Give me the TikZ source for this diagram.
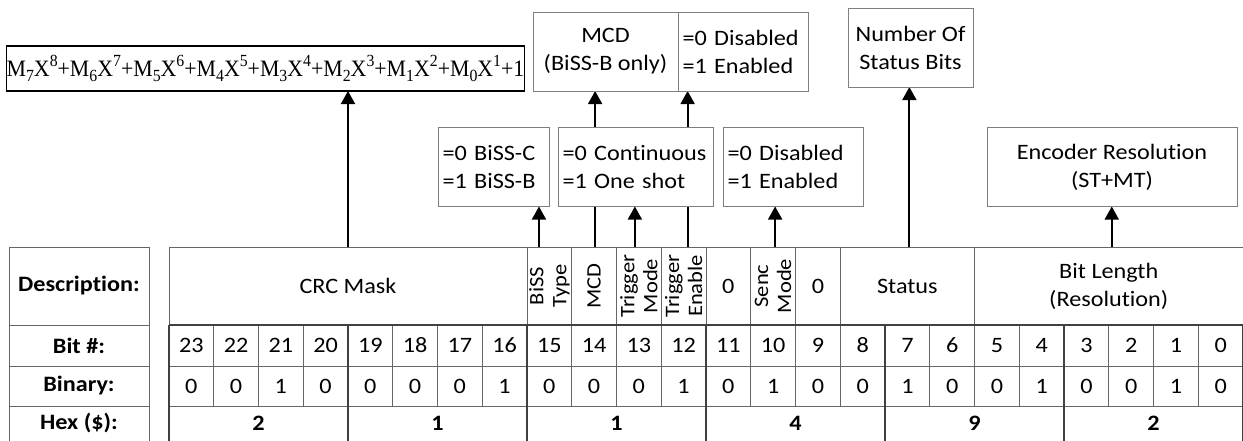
\documentclass[tikz,border=0pt]{standalone}
\usepackage{fontspec}
\setmainfont{Carlito}[FakeStretch=1.1, Ligatures=NoCommon]
\newfontfamily\formfont{Liberation Serif}[FakeStretch=0.93]
\usetikzlibrary{arrows.meta,backgrounds}
\definecolor{thinc}{HTML}{666666}
\definecolor{thickc}{HTML}{404040}
\definecolor{boxc}{HTML}{7F7F7F}
\newcommand\mterm[2]{M\raisebox{-0.22em}{\fontsize{17}{17}\selectfont #1}X\raisebox{0.45em}{\fontsize{17}{17}\selectfont #2}}
\begin{document}
\begin{tikzpicture}[x=1pt,y=-1pt,
  every node/.style={inner sep=0pt, outer sep=0pt, font=\fontsize{22}{28}\selectfont},
  cellc/.style={draw=thinc, line width=1pt, minimum width=44.75pt, minimum height=#1},
  desccell/.style={draw=thinc, line width=1pt, minimum height=78pt, minimum width=#1, align=center},
  vtext/.style={rotate=90, align=center, font=\fontsize{20.5}{23}\selectfont},
  labcell/.style={draw=thinc, line width=1pt, minimum width=140pt, minimum height=#1, font=\fontsize{22}{28}\selectfont\bfseries},
  thk/.style={draw=thickc, line width=2.4pt},
  infobox/.style={draw=boxc, line width=1pt, fill=white, minimum width=#1, minimum height=79pt, align=center},
  leftbox/.style={draw=boxc, line width=1pt, fill=white, text width=#1-9pt, inner xsep=4.5pt, minimum height=79pt, align=left},
  arr/.style={line width=1.8pt, -{Triangle[width=14pt,length=13pt]}}
]
\useasboundingbox (0,0) rectangle (1243,440);

% label column
\node[labcell=78pt] (ldesc) at (79,286) {Description:};
\node[labcell=41pt] (lbit) at (79,345.5) {Bit \#:};
\node[labcell=40pt] (lbin) at (79,386) {Binary:};
\node[labcell=38pt] (lhex) at (79,425) {};
\node[font=\fontsize{22}{28}\selectfont\bfseries] (lhext) at (79,423) {Hex (\$):};

% description row
\node[desccell=358pt] (crc) at (348,286) {CRC Mask};
\node[desccell=44.75pt] (biss) at ({169+8.5*44.75},286) {};
\node[vtext] at (biss) {BiSS\\Type};
\node[desccell=44.75pt] (mcd) at ({169+9.5*44.75},286) {};
\node[vtext] at (mcd) {MCD};
\node[desccell=44.75pt] (tmode) at ({169+10.5*44.75},286) {};
\node[vtext] at (tmode) {Trigger\\Mode};
\node[desccell=44.75pt] (tenable) at ({169+11.5*44.75},286) {};
\node[vtext] at (tenable) {Trigger\\Enable};
\node[desccell=44.75pt] (zeroa) at ({169+12.5*44.75},286) {0};
\node[desccell=44.75pt] (senc) at ({169+13.5*44.75},286) {};
\node[vtext] at (senc) {Senc\\Mode};
\node[desccell=44.75pt] (zerob) at ({169+14.5*44.75},286) {0};
\node[desccell=134.25pt] (status) at ({169+16.5*44.75},286) {Status};
\node[desccell=268.5pt] (bitlen) at ({169+21*44.75},286) {Bit Length\\(Resolution)};

% bit and binary rows
\foreach \b [count=\i from 0] in {0,0,1,0,0,0,0,1,0,0,0,1,0,1,0,0,1,0,0,1,0,0,1,0}{
  \pgfmathtruncatemacro\bn{23-\i}
  \node[cellc=41pt] (bit\i) at ({169+(\i+0.5)*44.75},345.5) {\bn};
  \node[cellc=40pt] (bin\i) at ({169+(\i+0.5)*44.75},386) {\b};
}
% hex row
\foreach \h [count=\i from 0] in {2,1,1,4,9,2}{
  \node[font=\fontsize{22}{28}\selectfont\bfseries] (hex\i) at ({169+(4*\i+2)*44.75},423) {\h};
}
% nibble borders
\draw[thk] (bit0.north west) -- (bit23.north east);
\foreach \i in {0,...,6}{
  \draw[thk] ({169+4*\i*44.75},325) -- ({169+4*\i*44.75},441);
}

% annotation boxes
\node[draw=black, line width=1.5pt, fill=white, minimum width=513pt, minimum height=45pt, font=\formfont\fontsize{23.5}{26}\selectfont] (formula) at (265.5,68.5)
  {\mterm{7}{8}+\mterm{6}{7}+\mterm{5}{6}+\mterm{4}{5}+\mterm{3}{4}+\mterm{2}{3}+\mterm{1}{2}+\mterm{0}{1}+1};
\node[infobox=145pt] (mcdbox) at (605.5,51.5) {MCD\\(BiSS-B only)};
\node[leftbox=130pt] (trigenbox) at (743,51.5) {=0 Disabled\\=1 Enabled};
\node[infobox=125pt] (numbox) at (910.5,47.5) {Number Of\\Status Bits};
\node[leftbox=111pt] (bissbox) at (493.5,167) {=0 BiSS-C\\=1 BiSS-B};
\node[leftbox=155pt] (contbox) at (635.5,167) {=0 Continuous\\=1 One shot};
\node[leftbox=140pt] (sencbox) at (793,167) {=0 Disabled\\=1 Enabled};
\node[infobox=250pt] (encbox) at (1112,167) {Encoder Resolution\\(ST+MT)};

% arrows
\begin{scope}[on background layer]
\draw[arr] (crc.north) -- (crc.north |- formula.south);
\draw[arr] ([xshift=-10.4pt]biss.north) -- ([xshift=-10.4pt]biss.north |- bissbox.south);
\draw[arr] ([xshift=1pt]mcd.north) -- ([xshift=1pt]mcd.north |- mcdbox.south);
\draw[arr] ([xshift=-4pt]tmode.north) -- ([xshift=-4pt]tmode.north |- contbox.south);
\draw[arr] ([xshift=4pt]tenable.north) -- ([xshift=4pt]tenable.north |- trigenbox.south);
\draw[arr] ([xshift=2pt]senc.north) -- ([xshift=2pt]senc.north |- sencbox.south);
\draw[arr] ([xshift=2pt]status.north) -- ([xshift=2pt]status.north |- numbox.south);
\draw[arr] ([xshift=3pt]bitlen.north) -- ([xshift=3pt]bitlen.north |- encbox.south);
\end{scope}
\end{tikzpicture}
\end{document}
